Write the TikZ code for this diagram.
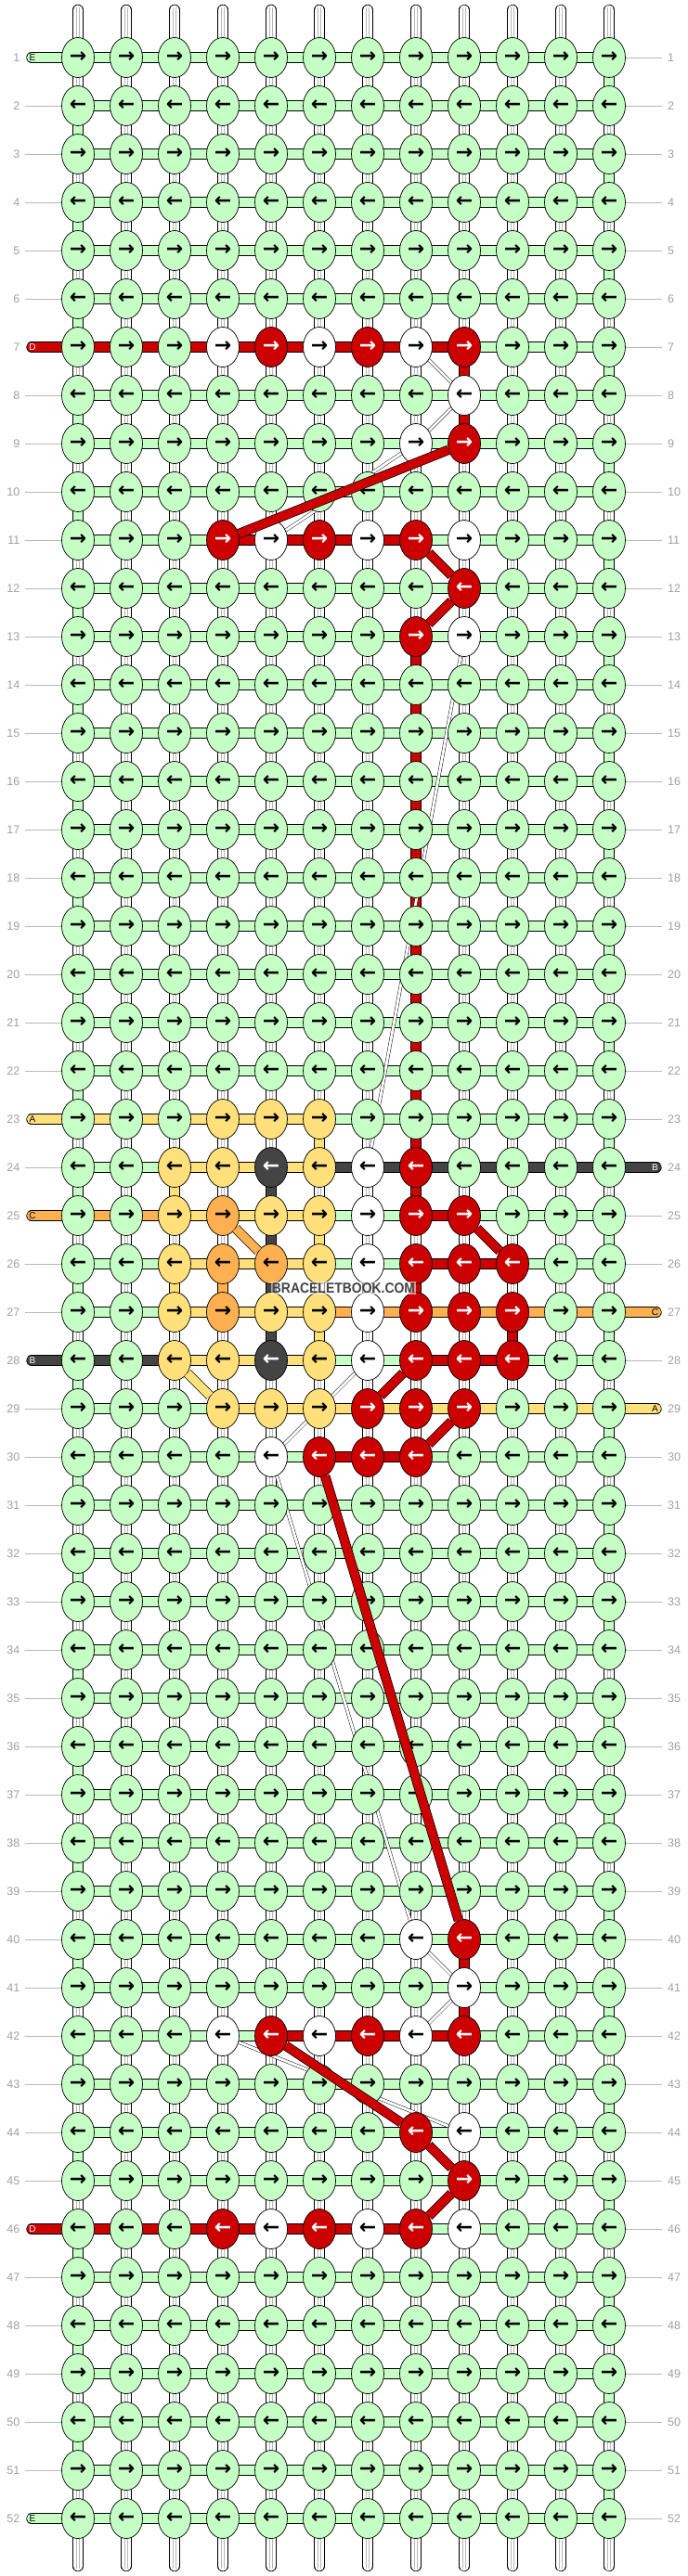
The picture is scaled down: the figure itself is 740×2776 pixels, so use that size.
\documentclass[tikz,border=0pt]{standalone}
\usepackage{fontspec}
\setmainfont{Liberation Sans}
\newfontfamily\arrowfont{DejaVu Sans}
\newfontfamily\wmfamily[FakeStretch=0.9]{Liberation Sans}
\usetikzlibrary{shapes.geometric}

\definecolor{cG}{HTML}{C6FFC6}
\definecolor{cW}{HTML}{FFFFFF}
\definecolor{cR}{HTML}{CC0000}
\definecolor{cY}{HTML}{FFE07A}
\definecolor{cO}{HTML}{FFB050}
\definecolor{cK}{HTML}{444444}
\colorlet{aG}{black}\colorlet{aW}{black}\colorlet{aY}{black}
\colorlet{aO}{black}\colorlet{aR}{white}\colorlet{aK}{white}
\definecolor{labgray}{HTML}{A0A0A0}
\definecolor{linegray}{HTML}{B8B8B8}

\pgfdeclarelayer{back}
\pgfdeclarelayer{bg}
\pgfdeclarelayer{mid}
\pgfdeclarelayer{fg}
\pgfsetlayers{back,bg,mid,main,fg}

\newcommand\rowknots[2]{\expandafter\def\csname nr#1\endcsname{#2}}
\newcommand\rowlinks[2]{\expandafter\def\csname hr#1\endcsname{#2}}
\newcommand\vlink[3]{\expandafter\def\csname v-#1-#2\endcsname{#3}}
\newcommand\leftcap[3]{\expandafter\def\csname lcc#1\endcsname{#2}\expandafter\def\csname lcl#1\endcsname{#3}}
\newcommand\rightcap[3]{\expandafter\def\csname rcc#1\endcsname{#2}\expandafter\def\csname rcl#1\endcsname{#3}}

\def\nrdef{G,G,G,G,G,G,G,G,G,G,G,G}
\def\hrdef{G,G,G,G,G,G,G,G,G,G,G}

\rowknots{7}{G,G,G,W,R,W,R,W,R,G,G,G}
\rowknots{8}{G,G,G,G,G,G,G,G,W,G,G,G}
\rowknots{9}{G,G,G,G,G,G,G,W,R,G,G,G}
\rowknots{11}{G,G,G,R,W,R,W,R,W,G,G,G}
\rowknots{12}{G,G,G,G,G,G,G,G,R,G,G,G}
\rowknots{13}{G,G,G,G,G,G,G,R,W,G,G,G}
\rowknots{23}{G,G,G,Y,Y,Y,G,G,G,G,G,G}
\rowknots{24}{G,G,Y,Y,K,Y,W,R,G,G,G,G}
\rowknots{25}{G,G,Y,O,Y,Y,W,R,R,G,G,G}
\rowknots{26}{G,G,Y,O,O,Y,W,R,R,R,G,G}
\rowknots{27}{G,G,Y,O,Y,Y,W,R,R,R,G,G}
\rowknots{28}{G,G,Y,Y,K,Y,W,R,R,R,G,G}
\rowknots{29}{G,G,G,Y,Y,Y,R,R,R,G,G,G}
\rowknots{30}{G,G,G,G,W,R,R,R,G,G,G,G}
\rowknots{40}{G,G,G,G,G,G,G,W,R,G,G,G}
\rowknots{41}{G,G,G,G,G,G,G,G,W,G,G,G}
\rowknots{42}{G,G,G,W,R,W,R,W,R,G,G,G}
\rowknots{44}{G,G,G,G,G,G,G,R,W,G,G,G}
\rowknots{45}{G,G,G,G,G,G,G,G,R,G,G,G}
\rowknots{46}{G,G,G,R,W,R,W,R,W,G,G,G}

\rowlinks{7}{R,R,R,R,R,R,R,R,G,G,G}
\rowlinks{11}{G,G,G,R,R,R,R,G,G,G,G}
\rowlinks{23}{Y,Y,Y,Y,Y,G,G,G,G,G,G}
\rowlinks{24}{G,G,Y,Y,Y,K,K,K,K,K,K}
\rowlinks{25}{O,O,Y,Y,Y,G,G,R,G,G,G}
\rowlinks{26}{G,G,Y,Y,Y,G,G,R,R,G,G}
\rowlinks{27}{G,G,Y,Y,Y,O,O,O,O,O,O}
\rowlinks{28}{K,K,Y,Y,Y,G,G,R,R,G,G}
\rowlinks{29}{G,G,G,Y,Y,Y,Y,Y,Y,Y,Y}
\rowlinks{30}{G,G,G,G,G,R,R,G,G,G,G}
\rowlinks{42}{G,G,G,G,R,R,R,R,G,G,G}
\rowlinks{46}{R,R,R,R,R,R,R,G,G,G,G}

\vlink{7}{9}{R}\vlink{8}{9}{R}
\vlink{13}{8}{R}\vlink{14}{8}{R}\vlink{15}{8}{R}\vlink{16}{8}{R}
\vlink{17}{8}{R}\vlink{18}{8}{R}\vlink{19}{8}{R}\vlink{20}{8}{R}
\vlink{21}{8}{R}\vlink{22}{8}{R}\vlink{23}{8}{R}
\vlink{23}{6}{Y}
\vlink{24}{3}{Y}\vlink{24}{5}{K}\vlink{24}{8}{R}
\vlink{25}{5}{K}\vlink{25}{6}{Y}
\vlink{26}{3}{Y}\vlink{26}{4}{O}\vlink{26}{5}{K}\vlink{26}{8}{R}
\vlink{27}{5}{K}\vlink{27}{6}{Y}\vlink{27}{10}{R}
\vlink{40}{9}{R}\vlink{41}{9}{R}

\leftcap{1}{G}{E}\leftcap{7}{R}{D}\leftcap{23}{Y}{A}\leftcap{25}{O}{C}
\leftcap{28}{K}{B}\leftcap{46}{R}{D}\leftcap{52}{G}{E}
\rightcap{24}{K}{B}\rightcap{27}{O}{C}\rightcap{29}{Y}{A}

\begin{document}
\begin{tikzpicture}[x=1pt,y=-1pt,
  knot/.style={ellipse, draw=black, line width=0.7pt, minimum width=35pt,
    minimum height=43pt, inner sep=0pt,
    font=\arrowfont\bfseries\fontsize{22}{22}\selectfont},
  strand/.style={draw=black, line width=0.7pt, double=#1, double distance=10pt},
  wstrand/.style={draw=black, line width=0.7pt, double=white, double distance=10pt},
  wcore/.style={draw=linegray, line width=0.5pt, double=white, double distance=2.4pt},
  tailcap/.style={draw=black, line width=0.7pt, double=white, double distance=10pt, line cap=round},
  capstrand/.style={draw=black, line width=0.7pt, double=#1, double distance=10pt, line cap=round},
  rband/.style={draw=black, line width=0.7pt, double=#1, double distance=9pt},
  hiddenstrand/.style={draw=black, line width=0.45pt, double=white, double distance=2.8pt},
  rowlab/.style={text=labgray, inner sep=0pt, font=\fontsize{12.5}{13}\selectfont},
  caplab/.style={inner sep=0pt, font=\fontsize{10}{10}\selectfont},
  labline/.style={draw=linegray, line width=0.8pt}
]
\useasboundingbox (0,0) rectangle (740,2776);
\begin{pgfonlayer}{back}
\fill[white] (0,0) rectangle (740,2776);
\end{pgfonlayer}

% knots
\foreach \rr in {1,...,52}{
  \pgfmathsetmacro{\yy}{62+52*(\rr-1)}
  \expandafter\let\expandafter\cur\csname nr\rr\endcsname
  \ifx\cur\relax\let\cur\nrdef\fi
  \ifodd\rr\relax\def\arr{→}\else\def\arr{←}\fi
  \foreach \kk [count=\cc] in \cur {
    \node[knot, fill=c\kk, text=a\kk] (n-\rr-\cc) at ({84+52*(\cc-1)},\yy) {\arr};
  }
}

\begin{pgfonlayer}{bg}
% horizontal strands
\foreach \rr in {1,...,52}{
  \expandafter\let\expandafter\cur\csname hr\rr\endcsname
  \ifx\cur\relax\let\cur\hrdef\fi
  \foreach \kk [count=\cc] in \cur {
    \pgfmathtruncatemacro{\dd}{\cc+1}
    \draw[strand=c\kk] (n-\rr-\cc.center) -- (n-\rr-\dd.center);
  }
}
% vertical strands
\foreach \rr in {1,...,51}{
  \pgfmathtruncatemacro{\ss}{\rr+1}
  \foreach \cc in {1,...,12}{
    \def\vc{W}
    \ifodd\rr\relax \ifnum\cc=12 \def\vc{G}\fi \else \ifnum\cc=1 \def\vc{G}\fi \fi
    \expandafter\ifx\csname v-\rr-\cc\endcsname\relax\else\edef\vc{\csname v-\rr-\cc\endcsname}\fi
    \if W\vc
      \draw[wstrand] (n-\rr-\cc.center) -- (n-\ss-\cc.center);
      \draw[wcore] (n-\rr-\cc.center) -- (n-\ss-\cc.center);
    \else
      \draw[strand=c\vc] (n-\rr-\cc.center) -- (n-\ss-\cc.center);
    \fi
  }
}
% warp tails
\foreach \cc in {1,...,12}{
  \coordinate (top-\cc) at ({84+52*(\cc-1)},10.5);
  \coordinate (topin-\cc) at ({84+52*(\cc-1)},8);
  \coordinate (bot-\cc) at ({84+52*(\cc-1)},2765.5);
  \coordinate (botin-\cc) at ({84+52*(\cc-1)},2768);
  \draw[tailcap] (top-\cc) -- (n-1-\cc.center);
  \draw[wcore] (topin-\cc) -- (n-1-\cc.center);
  \draw[tailcap] (bot-\cc) -- (n-52-\cc.center);
  \draw[wcore] (botin-\cc) -- (n-52-\cc.center);
}
% row labels, lines and thread ends
\foreach \rr in {1,...,52}{
  \pgfmathsetmacro{\yy}{62+52*(\rr-1)}
  \node[rowlab, anchor=east] (ll-\rr) at (21.5,\yy) {\rr};
  \node[rowlab, anchor=west] (lr-\rr) at (719,\yy) {\rr};
  \expandafter\ifx\csname lcc\rr\endcsname\relax
    \coordinate (lls-\rr) at (27,\yy);
    \draw[labline] (lls-\rr) -- (n-\rr-1.west);
  \else
    \edef\capcol{\csname lcc\rr\endcsname}
    \edef\caplet{\csname lcl\rr\endcsname}
    \coordinate (cl-\rr) at (34,\yy);
    \draw[capstrand=c\capcol] (cl-\rr) -- (n-\rr-1.center);
    \node[caplab, text=a\capcol] (cll-\rr) at (35,\yy) {\caplet};
  \fi
  \expandafter\ifx\csname rcc\rr\endcsname\relax
    \coordinate (lrs-\rr) at (713,\yy);
    \draw[labline] (n-\rr-12.east) -- (lrs-\rr);
  \else
    \edef\capcol{\csname rcc\rr\endcsname}
    \edef\caplet{\csname rcl\rr\endcsname}
    \coordinate (cr-\rr) at (707,\yy);
    \draw[capstrand=c\capcol] (n-\rr-12.center) -- (cr-\rr);
    \node[caplab, text=a\capcol] (crl-\rr) at (705.5,\yy) {\caplet};
  \fi
}
\end{pgfonlayer}

% hidden white strands (under knots)
\begin{pgfonlayer}{mid}
\draw[hiddenstrand] (n-7-8) -- (n-8-9);
\draw[hiddenstrand] (n-8-9) -- (n-9-8);
\draw[hiddenstrand] (n-9-8) -- (n-11-5);
\draw[hiddenstrand] (n-13-9) -- (n-24-7);
\draw[hiddenstrand] (n-28-7) -- (n-30-5);
\draw[hiddenstrand] (n-30-5) -- (n-40-8);
\draw[hiddenstrand] (n-40-8) -- (n-41-9);
\draw[hiddenstrand] (n-41-9) -- (n-42-8);
\draw[hiddenstrand] (n-42-4) -- (n-44-9);
\end{pgfonlayer}

% diagonal carried threads (over knots)
\begin{pgfonlayer}{fg}
\draw[rband=cR] (n-9-9) -- (n-11-4);
\draw[rband=cR] (n-11-8) -- (n-12-9);
\draw[rband=cR] (n-12-9) -- (n-13-8);
\draw[rband=cO] (n-25-4) -- (n-26-5);
\draw[rband=cR] (n-25-9) -- (n-26-10);
\draw[rband=cY] (n-28-3) -- (n-29-4);
\draw[rband=cR] (n-28-8) -- (n-29-7);
\draw[rband=cR] (n-29-9) -- (n-30-8);
\draw[rband=cR] (n-30-6) -- (n-40-9);
\draw[rband=cR] (n-42-5) -- (n-44-8);
\draw[rband=cR] (n-44-8) -- (n-45-9);
\draw[rband=cR] (n-45-9) -- (n-46-8);
\node[font=\wmfamily\bfseries\fontsize{15.5}{16}\selectfont, text=cK,
  fill=white, fill opacity=0.55, text opacity=1, inner sep=1.2pt] (wm) at (370,1388) {BRACELETBOOK.COM};
\end{pgfonlayer}
\end{tikzpicture}
\end{document}
